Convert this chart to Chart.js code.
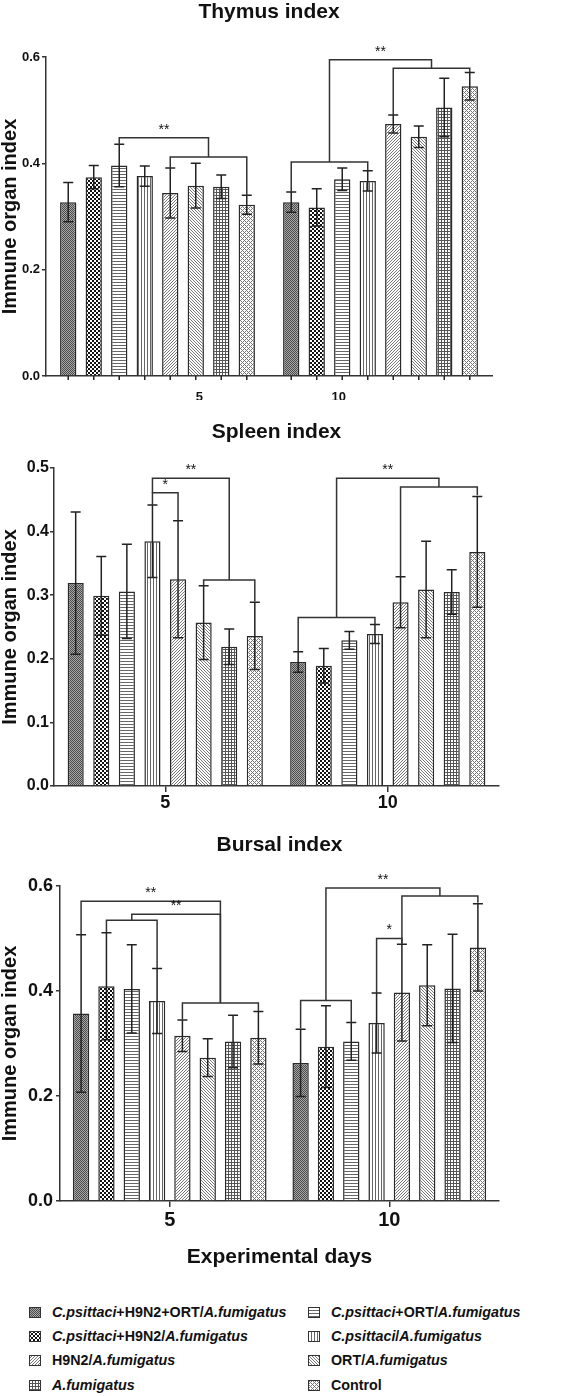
<!DOCTYPE html>
<html>
<head>
<meta charset="utf-8">
<script src="https://cdn.jsdelivr.net/npm/chart.js@4.4.0/dist/chart.umd.min.js"></script>
<style>
  body { margin: 0; background: #fff; width: 566px; height: 1396px; position: relative; overflow: hidden; }
  .panel { position: absolute; left: 0; }
  #legend { position: absolute; left: 0; top: 0; width: 566px; font: bold 14.3px "Liberation Sans", Arial, sans-serif; color: #111; }
  .item { position: absolute; height: 20px; display: flex; align-items: center; white-space: nowrap; }
  .item canvas { margin-right: 11px; }
</style>
</head>
<body>
<canvas id="thymus" class="panel" width="566" height="400" style="top:0px"></canvas>
<canvas id="spleen" class="panel" width="566" height="420" style="top:400px"></canvas>
<canvas id="bursal" class="panel" width="566" height="450" style="top:820px"></canvas>
<div id="legend"></div>
<script>
  "use strict";

  // ---- data ----
  var days = ["5", "10"];
  var groups = [
    "C.psittaci+H9N2+ORT/A.fumigatus",
    "C.psittaci+H9N2/A.fumigatus",
    "C.psittaci+ORT/A.fumigatus",
    "C.psittaci/A.fumigatus",
    "H9N2/A.fumigatus",
    "ORT/A.fumigatus",
    "A.fumigatus",
    "Control"
  ];
  // thymus x labels sit under single bars in the original
  var thymusTickLabels = ["", "", "", "", "", "5", "", "", "", "", "10", "", "", "", "", ""];

  var thymusDay5 = [0.327, 0.374, 0.396, 0.376, 0.344, 0.358, 0.356, 0.322];
  var thymusErr5 = [0.037, 0.022, 0.040, 0.019, 0.047, 0.042, 0.022, 0.018];
  var thymusDay10 = [0.327, 0.317, 0.370, 0.367, 0.474, 0.450, 0.505, 0.545];
  var thymusErr10 = [0.019, 0.035, 0.021, 0.019, 0.017, 0.020, 0.055, 0.026];

  var spleenDay5 = [0.319, 0.299, 0.306, 0.385, 0.325, 0.257, 0.219, 0.236];
  var spleenErr5 = [0.112, 0.062, 0.074, 0.057, 0.092, 0.058, 0.028, 0.053];
  var spleenDay10 = [0.195, 0.189, 0.229, 0.239, 0.289, 0.309, 0.305, 0.368];
  var spleenErr10 = [0.016, 0.027, 0.014, 0.015, 0.040, 0.076, 0.035, 0.087];

  var bursalDay5 = [0.357, 0.409, 0.404, 0.381, 0.315, 0.273, 0.304, 0.311];
  var bursalErr5 = [0.150, 0.102, 0.084, 0.062, 0.030, 0.036, 0.050, 0.050];
  var bursalDay10 = [0.263, 0.294, 0.304, 0.339, 0.397, 0.411, 0.405, 0.483];
  var bursalErr10 = [0.064, 0.078, 0.036, 0.057, 0.092, 0.077, 0.103, 0.083];

  // significance brackets: [from bar, to bar, level, left end, right end, label]
  // bars are numbered 0-15 (day 5 then day 10), halves = middle of a sub-bracket
  var thymusBrackets = [
    [2, 5.5, 0.448, 0.436, 0.412, "**"],
    [4, 7, 0.412, 0.391, 0.340, ""],
    [9.5, 13.5, 0.595, 0.4025, 0.579, "**"],
    [8, 11, 0.4025, 0.346, 0.387, ""],
    [12, 15, 0.579, 0.491, 0.572, ""]
  ];
  var spleenBrackets = [
    [3, 4, 0.461, 0.442, 0.418, "*"],
    [3, 6, 0.484, 0.461, 0.324, "**"],
    [5, 7, 0.324, 0.315, 0.290, ""],
    [9.5, 13.5, 0.484, 0.265, 0.470, "**"],
    [8, 11, 0.265, 0.211, 0.254, ""],
    [12, 15, 0.470, 0.330, 0.457, ""]
  ];
  var bursalBrackets = [
    [0, 5.5, 0.571, 0.508, 0.377, "**"],
    [2, 5.5, 0.546, 0.535, 0.377, "**"],
    [1, 3, 0.535, 0.512, 0.444, ""],
    [4, 7, 0.377, 0.346, 0.362, ""],
    [9, 13.5, 0.596, 0.382, 0.581, "**"],
    [8, 10, 0.382, 0.3285, 0.340, ""],
    [12, 15, 0.581, 0.490, 0.568, ""],
    [11, 12, 0.500, 0.396, 0.490, "*"]
  ];

  Chart.defaults.font.family = '"Liberation Sans", Arial, sans-serif';
  Chart.defaults.color = "#111";

  /* hatch tiles, one per group */
  function makeTile(kind) {
    var n = 12;
    var c = document.createElement("canvas");
    c.width = n; c.height = n;
    var g = c.getContext("2d");
    g.fillStyle = "#fff";
    g.fillRect(0, 0, n, n);
    for (var y = 0; y < n; y++) {
      for (var x = 0; x < n; x++) {
        var col = null;
        if (kind === 0) col = (x + y) % 2 === 0 ? "#4a4a4a" : "#a8a8a8";
        if (kind === 1) col = ((x >> 1) + (y >> 1)) % 2 === 0 ? "#111" : null;
        if (kind === 2) col = y % 3 === 0 ? "#666" : null;
        if (kind === 3) col = x % 3 === 0 ? "#666" : null;
        if (kind === 4) col = (x + y) % 3 === 0 ? "#777" : null;
        if (kind === 5) col = (x - y + n) % 3 === 0 ? "#777" : null;
        if (kind === 6) col = (x % 3 === 0 || y % 3 === 0) ? "#555" : null;
        if (kind === 7) col = ((x + y) % 4 === 0 || (x - y + n) % 4 === 0) ? "#777" : null;
        if (col) { g.fillStyle = col; g.fillRect(x, y, 1, 1); }
      }
    }
    return c;
  }
  var tiles = groups.map(function (name, i) { return makeTile(i); });

  var marks = {
    id: "marks",
    afterDatasetsDraw: function (chart, args, opts) {
      var ctx = chart.ctx;
      var ys = chart.scales.y;
      ctx.save();
      ctx.strokeStyle = "#222";
      ctx.lineWidth = 1.5;

      // error bars
      chart.data.datasets.forEach(function (ds, i) {
        chart.getDatasetMeta(i).data.forEach(function (bar, j) {
          var top = ys.getPixelForValue(ds.data[j] + ds.err[j]);
          var bot = ys.getPixelForValue(ds.data[j] - ds.err[j]);
          ctx.beginPath();
          ctx.moveTo(bar.x, top); ctx.lineTo(bar.x, bot);
          ctx.moveTo(bar.x - 5, top); ctx.lineTo(bar.x + 5, top);
          ctx.moveTo(bar.x - 5, bot); ctx.lineTo(bar.x + 5, bot);
          ctx.stroke();
        });
      });

      // tick under every bar (thymus panel)
      if (opts.barTicks) {
        var b = chart.chartArea.bottom;
        chart.data.datasets.forEach(function (ds, i) {
          chart.getDatasetMeta(i).data.forEach(function (bar) {
            ctx.beginPath();
            ctx.moveTo(bar.x, b); ctx.lineTo(bar.x, b + 4);
            ctx.stroke();
          });
        });
      }

      function barX(p) {
        var g = p < 8 ? 0 : 1;
        var k = p - 8 * g;
        var a = Math.floor(k), c = Math.ceil(k);
        var xa = chart.getDatasetMeta(a).data[g].x;
        var xc = chart.getDatasetMeta(c).data[g].x;
        return xa + (xc - xa) * (k - a);
      }

      ctx.strokeStyle = "#333";
      ctx.fillStyle = "#111";
      ctx.font = "14px 'Liberation Sans', Arial, sans-serif";
      ctx.textAlign = "center";
      ctx.textBaseline = "bottom";
      (opts.brackets || []).forEach(function (br) {
        var x1 = barX(br[0]), x2 = barX(br[1]);
        var yl = ys.getPixelForValue(br[2]);
        ctx.beginPath();
        ctx.moveTo(x1, ys.getPixelForValue(br[3]));
        ctx.lineTo(x1, yl);
        ctx.lineTo(x2, yl);
        ctx.lineTo(x2, ys.getPixelForValue(br[4]));
        ctx.stroke();
        if (br[5]) ctx.fillText(br[5], (x1 + x2) / 2, yl - 1);
      });
      ctx.restore();
    }
  };

  function buildChart(id, cfg) {
    var el = document.getElementById(id);
    var ctx = el.getContext("2d");
    var datasets = groups.map(function (name, i) {
      return {
        label: name,
        data: [cfg.day5[i], cfg.day10[i]],
        err: [cfg.err5[i], cfg.err10[i]],
        backgroundColor: ctx.createPattern(tiles[i], "repeat"),
        borderColor: "#2a2a2a",
        borderWidth: 1.5,
        categoryPercentage: cfg.catPct,
        barPercentage: cfg.barPct
      };
    });

    var scales = {
      y: {
        min: 0,
        max: cfg.yMax,
        afterFit: function (s) { s.width = cfg.left; },
        ticks: {
          stepSize: cfg.step,
          padding: cfg.yPad,
          font: { size: cfg.yTickSize, weight: "bold" },
          callback: function (v) { return v.toFixed(1); }
        },
        grid: { drawOnChartArea: false, tickLength: 4, color: "#333", lineWidth: 1.5 },
        border: { color: "#333", width: 1.5 },
        title: {
          display: true,
          text: "Immune organ index",
          font: { size: 20, weight: "bold", lineHeight: 1 },
          padding: 0
        }
      }
    };

    if (cfg.barTicks) {
      scales.x = { display: false };
      scales.x2 = {
        type: "category",
        position: "bottom",
        labels: thymusTickLabels,
        afterFit: function (s) { s.height = cfg.xHeight; },
        grid: { display: false },
        border: { color: "#333", width: 1.5 },
        ticks: { autoSkip: false, maxRotation: 0, padding: 6, font: { size: cfg.xTickSize, weight: "bold" } }
      };
    } else {
      scales.x = {
        afterFit: function (s) { s.height = cfg.xHeight; },
        grid: { drawOnChartArea: false, offset: false, tickLength: 6, color: "#333", lineWidth: 1.5 },
        border: { color: "#333", width: 1.5 },
        ticks: { padding: cfg.xPad, maxRotation: 0, font: { size: cfg.xTickSize, weight: "bold" } },
        title: {
          display: !!cfg.xTitle,
          text: cfg.xTitle || "",
          font: { size: 21, weight: "bold" },
          padding: { top: 0, bottom: 0 }
        }
      };
    }

    return new Chart(ctx, {
      type: "bar",
      data: { labels: days, datasets: datasets },
      options: {
        responsive: false,
        animation: false,
        layout: { padding: { left: 0, right: cfg.right, top: 0, bottom: 0 } },
        scales: scales,
        plugins: {
          legend: { display: false },
          tooltip: { enabled: false },
          title: {
            display: true,
            text: cfg.title,
            fullSize: false,
            font: { size: 21, weight: "bold" },
            padding: cfg.titlePad
          },
          marks: { brackets: cfg.brackets, barTicks: !!cfg.barTicks }
        }
      },
      plugins: [marks]
    });
  }

  buildChart("thymus", {
    title: "Thymus index",
    day5: thymusDay5, err5: thymusErr5, day10: thymusDay10, err10: thymusErr10,
    brackets: thymusBrackets,
    yMax: 0.6, step: 0.2, yTickSize: 13, yPad: 2, xTickSize: 13,
    left: 46, right: 74, xHeight: 24,
    titlePad: { top: 0, bottom: 31.8 },
    catPct: 0.915, barPct: 0.64,
    barTicks: true
  });

  buildChart("spleen", {
    title: "Spleen index",
    day5: spleenDay5, err5: spleenErr5, day10: spleenDay10, err10: spleenErr10,
    brackets: spleenBrackets,
    yMax: 0.5, step: 0.1, yTickSize: 16, yPad: 1, xTickSize: 18, xPad: 0,
    left: 54, right: 67, xHeight: 34,
    titlePad: { top: 19.4, bottom: 23.4 },
    catPct: 0.92, barPct: 0.63
  });

  buildChart("bursal", {
    title: "Bursal index",
    day5: bursalDay5, err5: bursalErr5, day10: bursalDay10, err10: bursalErr10,
    brackets: bursalBrackets,
    yMax: 0.6, step: 0.2, yTickSize: 18, yPad: 3, xTickSize: 20, xPad: 1,
    left: 60, right: 67, xHeight: 69,
    xTitle: "Experimental days",
    titlePad: { top: 12.4, bottom: 28.4 },
    catPct: 0.923, barPct: 0.645
  });

  // legend, two columns, species names in italics
  var legendOrder = [0, 2, 1, 3, 4, 5, 6, 7];
  var rowTops = [1302, 1326, 1350, 1375];
  var colLefts = [29, 308];
  var legend = document.getElementById("legend");
  legendOrder.forEach(function (gi, k) {
    var item = document.createElement("div");
    item.className = "item";
    item.style.top = rowTops[Math.floor(k / 2)] + "px";
    item.style.left = colLefts[k % 2] + "px";
    var sw = document.createElement("canvas");
    sw.width = 12; sw.height = 11;
    var sc = sw.getContext("2d");
    sc.fillStyle = sc.createPattern(tiles[gi], "repeat");
    sc.fillRect(0, 0, 12, 11);
    sc.strokeStyle = "#333";
    sc.lineWidth = 1;
    sc.strokeRect(0.5, 0.5, 11, 10);
    item.appendChild(sw);
    var txt = document.createElement("span");
    txt.innerHTML = groups[gi].replace(/(C\.psittaci|A\.fumigatus)/g, "<i>$1</i>");
    item.appendChild(txt);
    legend.appendChild(item);
  });
</script>
</body>
</html>
